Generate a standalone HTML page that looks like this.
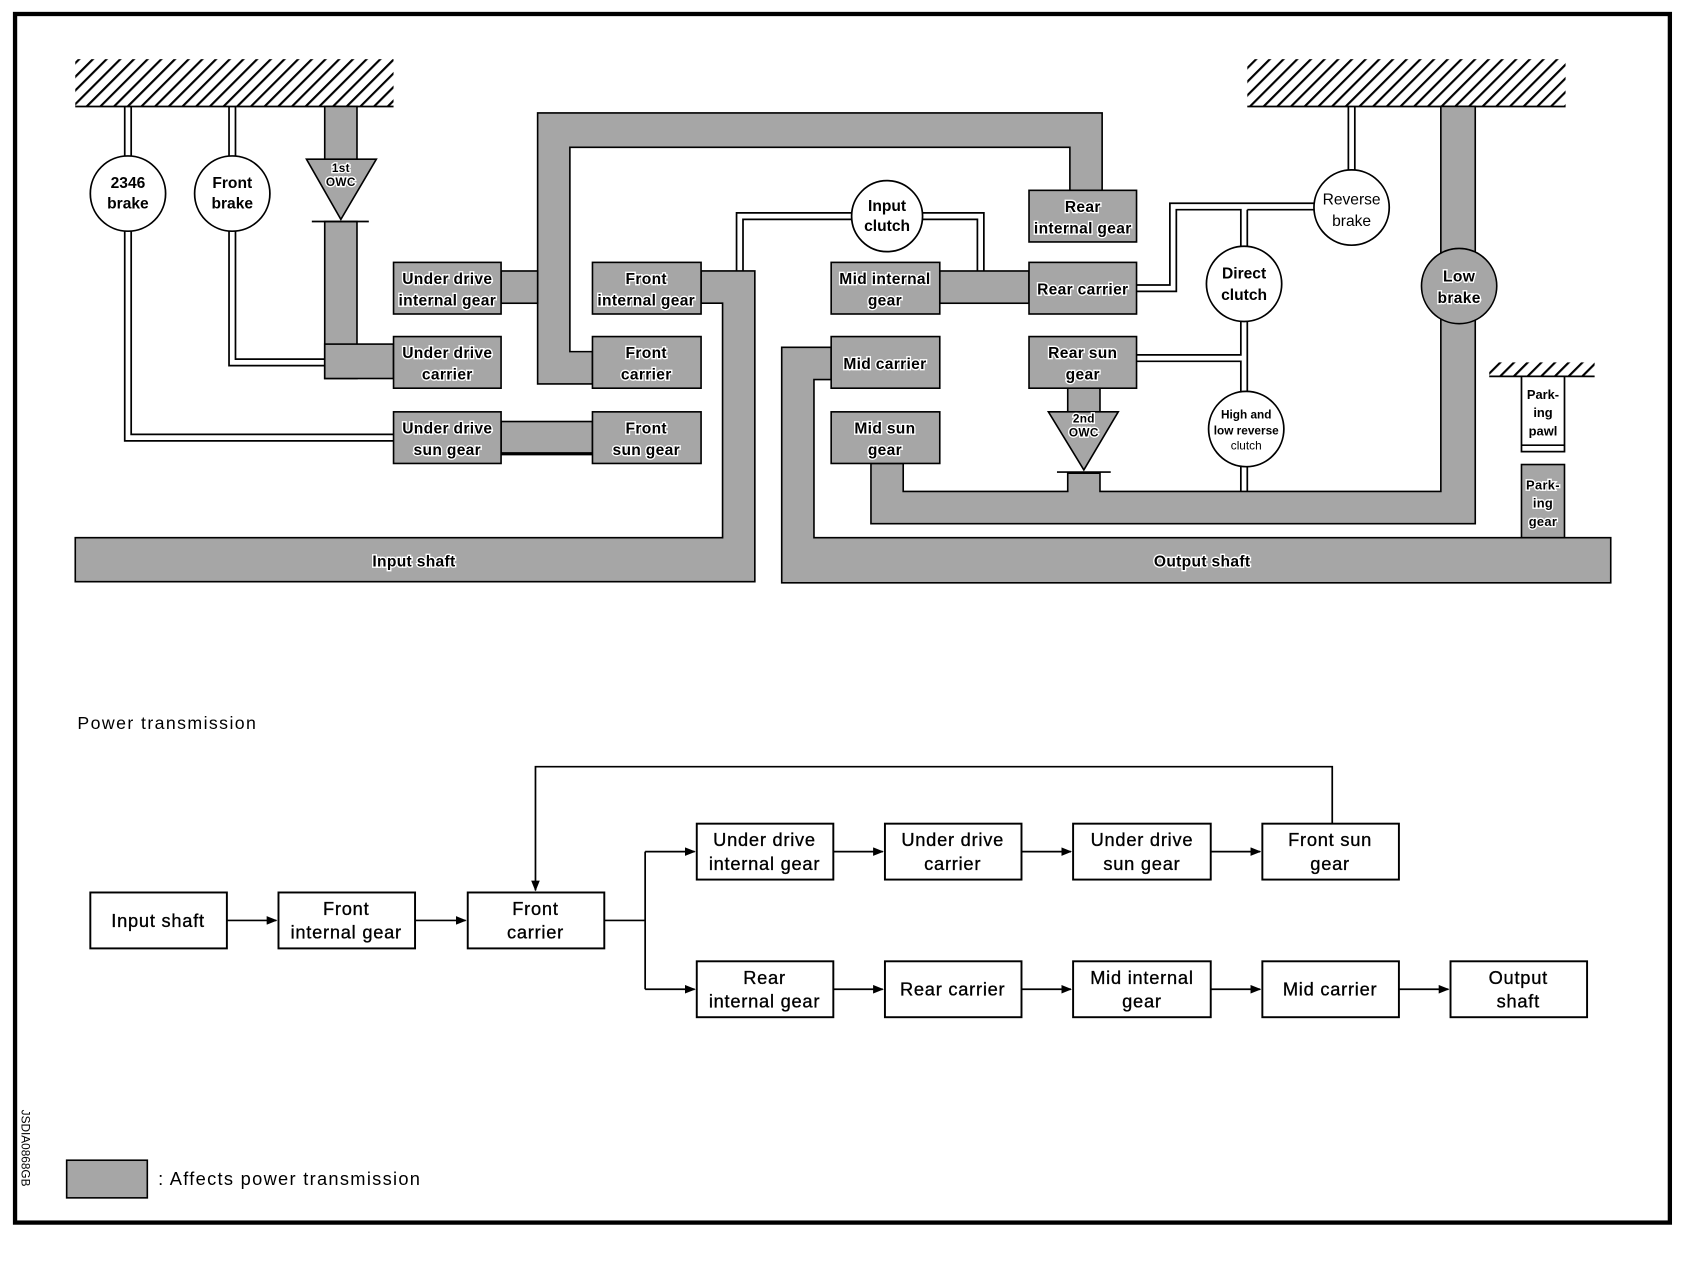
<!DOCTYPE html>
<html><head><meta charset="utf-8"><style>
html,body{margin:0;padding:0;background:#fff}
svg{display:block}
text{font-family:"Liberation Sans",sans-serif;fill:#000}
.g{fill:#a6a6a6;stroke:#000;stroke-width:1.5}
.l{stroke:#000;stroke-width:1.6;fill:none}
.c{fill:#fff;stroke:#000;stroke-width:1.6}
.t{font-size:14.5px;text-anchor:middle;stroke:#fff;stroke-width:2.5px;paint-order:stroke;font-weight:bold;letter-spacing:0.3px}
.ct{font-size:14.5px;text-anchor:middle;font-weight:bold}
.b{fill:#fff;stroke:#000;stroke-width:1.8}
.bt{font-size:17px;text-anchor:middle;letter-spacing:0.7px;stroke:#000;stroke-width:0.3px}
</style></head><body>
<svg width="1686" height="1264" viewBox="0 0 1568 1175.5" xmlns="http://www.w3.org/2000/svg">
<defs>
<pattern id="h" width="9" height="9" patternUnits="userSpaceOnUse" patternTransform="rotate(45)">
<rect width="2" height="9" fill="#000"/></pattern>
<marker id="a" markerWidth="10" markerHeight="8" refX="9" refY="4" orient="auto" markerUnits="userSpaceOnUse"><path d="M0,0 L10,4 L0,8z" fill="#000"/></marker>
</defs>
<rect x="14" y="13" width="1539" height="1124" fill="none" stroke="#000" stroke-width="4"/>
<rect x="70" y="55" width="296" height="44" fill="url(#h)"/><line x1="70" y1="99" x2="366" y2="99" class="l"/>
<rect x="1160" y="55" width="296" height="44" fill="url(#h)"/><line x1="1160" y1="99" x2="1456" y2="99" class="l"/>
<rect x="1385" y="337" width="98" height="13" fill="url(#h)"/><line x1="1385" y1="350" x2="1483" y2="350" class="l"/>
<path class="l" d="M116,99V145M122,99V145M116,215V410H366M122,215V404H366"/>
<path class="l" d="M213,99V145M219,99V145M213,215V340H366M219,215V334H366" />
<rect class="g" x="302" y="99" width="30" height="50"/>
<rect class="g" x="302" y="206" width="30" height="146"/>
<rect class="g" x="302" y="320" width="64" height="32"/>
<polygon class="g" points="285,148 350,148 317,204"/>
<line class="l" x1="290" y1="206" x2="343" y2="206"/>
<path class="g" d="M500,105H1025V177H995V137H530V327H551V357H500Z"/>
<rect class="g" x="466" y="252" width="34" height="30"/>
<rect class="g" x="466" y="392" width="85" height="30"/>
<line x1="466" y1="422" x2="551" y2="422" stroke="#000" stroke-width="3"/>
<path class="g" d="M652,252H702V541H70V500H672V282H652Z"/>
<rect class="g" x="874" y="252" width="83" height="30"/>
<path class="g" d="M773,323V353H757V500H1498V542H727V323Z"/>
<path class="g" d="M810,431H840V457H993V440H1023V457H1340V99H1372V487H810Z"/>
<rect class="g" x="993" y="361" width="30" height="22"/>
<polygon class="g" points="975,383 1040,383 1008,437"/>
<line class="l" x1="983" y1="439" x2="1033" y2="439"/>
<text class="t" x="1008" y="393" style="font-size:11px">2nd</text><text class="t" x="1008" y="406" style="font-size:11px">OWC</text>
<text class="t" x="317" y="160" style="font-size:11px">1st</text><text class="t" x="317" y="173" style="font-size:11px">OWC</text>
<path class="l" d="M685,252V198H792M691,252V204H792M858,198H915V252M858,204H909V252"/>
<path class="l" d="M1057,265H1088V189H1222M1057,271H1094V195H1154V230M1160,195H1222M1160,195V230"/>
<path class="l" d="M1154,299V330H1057M1160,299V399M1057,336H1154V364M1154,434V457M1160,434V457"/>
<path class="l" d="M1254,99V158M1260,99V158"/>
<circle class="c" cx="119" cy="180" r="35"/><text class="ct" x="119" y="175">2346</text><text class="ct" x="119" y="194">brake</text>
<circle class="c" cx="216" cy="180" r="35"/><text class="ct" x="216" y="175">Front</text><text class="ct" x="216" y="194">brake</text>
<circle class="c" cx="825" cy="201" r="33"/><text class="ct" x="825" y="196">Input</text><text class="ct" x="825" y="215">clutch</text>
<circle class="c" cx="1257" cy="193" r="35"/><text class="ct" x="1257" y="190" style="font-weight:normal">Reverse</text><text class="ct" x="1257" y="210" style="font-weight:normal">brake</text>
<circle class="c" cx="1157" cy="264" r="35"/><text class="ct" x="1157" y="259">Direct</text><text class="ct" x="1157" y="279">clutch</text>
<circle class="c" cx="1159" cy="399" r="35"/><text class="ct" x="1159" y="389" style="font-size:11px">High and</text><text class="ct" x="1159" y="404" style="font-size:11px">low reverse</text><text class="ct" x="1159" y="418" style="font-size:11px;font-weight:normal">clutch</text>
<circle class="g" cx="1357" cy="266" r="35"/><text class="t" x="1357" y="262">Low</text><text class="t" x="1357" y="282">brake</text>
<g>
<rect class="g" x="366" y="244" width="100" height="48"/><text class="t" x="416" y="264">Under drive</text><text class="t" x="416" y="284">internal gear</text>
<rect class="g" x="366" y="313" width="100" height="48"/><text class="t" x="416" y="333">Under drive</text><text class="t" x="416" y="353">carrier</text>
<rect class="g" x="366" y="383" width="100" height="48"/><text class="t" x="416" y="403">Under drive</text><text class="t" x="416" y="423">sun gear</text>
<rect class="g" x="551" y="244" width="101" height="48"/><text class="t" x="601" y="264">Front</text><text class="t" x="601" y="284">internal gear</text>
<rect class="g" x="551" y="313" width="101" height="48"/><text class="t" x="601" y="333">Front</text><text class="t" x="601" y="353">carrier</text>
<rect class="g" x="551" y="383" width="101" height="48"/><text class="t" x="601" y="403">Front</text><text class="t" x="601" y="423">sun gear</text>
<rect class="g" x="957" y="177" width="100" height="48"/><text class="t" x="1007" y="197">Rear</text><text class="t" x="1007" y="217">internal gear</text>
<rect class="g" x="773" y="244" width="101" height="48"/><text class="t" x="823" y="264">Mid internal</text><text class="t" x="823" y="284">gear</text>
<rect class="g" x="957" y="244" width="100" height="48"/><text class="t" x="1007" y="274">Rear carrier</text>
<rect class="g" x="773" y="313" width="101" height="48"/><text class="t" x="823" y="343">Mid carrier</text>
<rect class="g" x="957" y="313" width="100" height="48"/><text class="t" x="1007" y="333">Rear sun</text><text class="t" x="1007" y="353">gear</text>
<rect class="g" x="773" y="383" width="101" height="48"/><text class="t" x="823" y="403">Mid sun</text><text class="t" x="823" y="423">gear</text>
</g>
<text class="t" x="385" y="527">Input shaft</text>
<text class="t" x="1118" y="527">Output shaft</text>
<rect class="c" x="1415" y="350" width="40" height="70"/><line class="l" x1="1415" y1="414" x2="1455" y2="414"/>
<text class="ct" x="1435" y="371" style="font-size:12px">Park-</text><text class="ct" x="1435" y="388" style="font-size:12px">ing</text><text class="ct" x="1435" y="405" style="font-size:12px">pawl</text>
<rect class="g" x="1415" y="432" width="40" height="68"/>
<text class="t" x="1435" y="455" style="font-size:12px">Park-</text><text class="t" x="1435" y="472" style="font-size:12px">ing</text><text class="t" x="1435" y="489" style="font-size:12px">gear</text>
<text x="72" y="678" style="font-size:16.5px;letter-spacing:1.3px">Power transmission</text>
<path class="l" d="M1239,766V713H498V828" marker-end="url(#a)"/>
<g class="l">
<line x1="211" y1="856" x2="257" y2="856" marker-end="url(#a)"/>
<line x1="386" y1="856" x2="433" y2="856" marker-end="url(#a)"/>
<path d="M562,856H600M600,792V920"/>
<line x1="600" y1="792" x2="646" y2="792" marker-end="url(#a)"/>
<line x1="600" y1="920" x2="646" y2="920" marker-end="url(#a)"/>
<line x1="775" y1="792" x2="821" y2="792" marker-end="url(#a)"/>
<line x1="950" y1="792" x2="996" y2="792" marker-end="url(#a)"/>
<line x1="1126" y1="792" x2="1172" y2="792" marker-end="url(#a)"/>
<line x1="775" y1="920" x2="821" y2="920" marker-end="url(#a)"/>
<line x1="950" y1="920" x2="996" y2="920" marker-end="url(#a)"/>
<line x1="1126" y1="920" x2="1172" y2="920" marker-end="url(#a)"/>
<line x1="1301" y1="920" x2="1347" y2="920" marker-end="url(#a)"/>
</g>
<rect class="b" x="84" y="830" width="127" height="52"/><text class="bt" x="147" y="862">Input shaft</text>
<rect class="b" x="259" y="830" width="127" height="52"/><text class="bt" x="322" y="851">Front</text><text class="bt" x="322" y="873">internal gear</text>
<rect class="b" x="435" y="830" width="127" height="52"/><text class="bt" x="498" y="851">Front</text><text class="bt" x="498" y="873">carrier</text>
<rect class="b" x="648" y="766" width="127" height="52"/><text class="bt" x="711" y="787">Under drive</text><text class="bt" x="711" y="809">internal gear</text>
<rect class="b" x="823" y="766" width="127" height="52"/><text class="bt" x="886" y="787">Under drive</text><text class="bt" x="886" y="809">carrier</text>
<rect class="b" x="998" y="766" width="128" height="52"/><text class="bt" x="1062" y="787">Under drive</text><text class="bt" x="1062" y="809">sun gear</text>
<rect class="b" x="1174" y="766" width="127" height="52"/><text class="bt" x="1237" y="787">Front sun</text><text class="bt" x="1237" y="809">gear</text>
<rect class="b" x="648" y="894" width="127" height="52"/><text class="bt" x="711" y="915">Rear</text><text class="bt" x="711" y="937">internal gear</text>
<rect class="b" x="823" y="894" width="127" height="52"/><text class="bt" x="886" y="926">Rear carrier</text>
<rect class="b" x="998" y="894" width="128" height="52"/><text class="bt" x="1062" y="915">Mid internal</text><text class="bt" x="1062" y="937">gear</text>
<rect class="b" x="1174" y="894" width="127" height="52"/><text class="bt" x="1237" y="926">Mid carrier</text>
<rect class="b" x="1349" y="894" width="127" height="52"/><text class="bt" x="1412" y="915">Output</text><text class="bt" x="1412" y="937">shaft</text>
<rect class="g" x="62" y="1079" width="75" height="35"/>
<text x="147" y="1102" style="font-size:17px;letter-spacing:1.2px">: Affects power transmission</text>
<text x="0" y="0" transform="translate(20,1032) rotate(90)" style="font-size:11px">JSDIA0868GB</text>
</svg>
</body></html>
